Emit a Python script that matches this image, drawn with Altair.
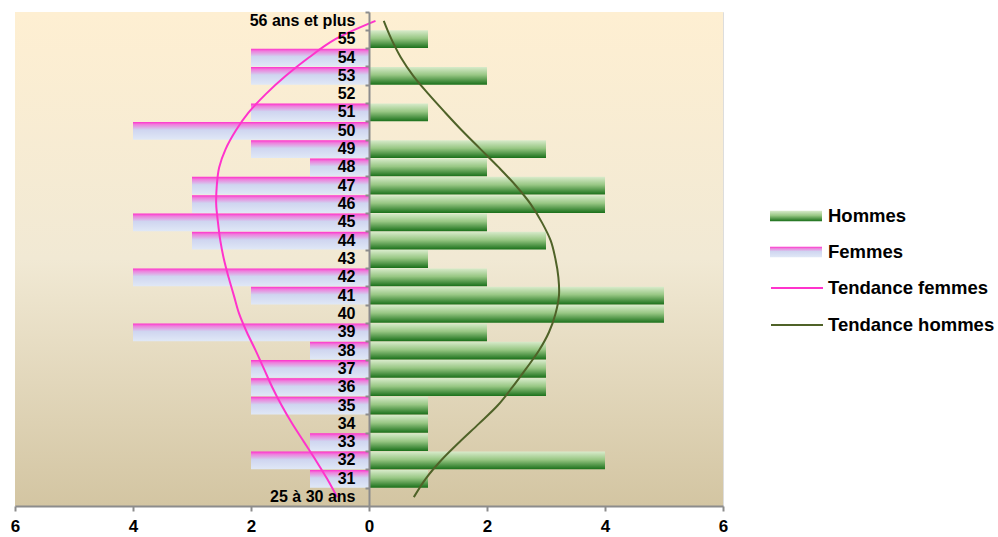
import altair as alt
import pandas as pd

categories = ["25 à 30 ans"] + [str(a) for a in range(31, 56)] + ["56 ans et plus"]
hommes = [0, 1, 4, 1, 1, 1, 3, 3, 3, 2, 5, 5, 2, 1, 3, 2, 4, 4, 2, 3, 0, 1, 0, 2, 0, 1, 0]
femmes = [0, 1, 2, 1, 0, 2, 2, 2, 1, 4, 0, 2, 4, 0, 3, 4, 3, 3, 1, 2, 4, 2, 0, 2, 2, 0, 0]
tendance_hommes = [0.76, 0.96, 1.22, 1.53, 1.86, 2.18, 2.43, 2.66, 2.88, 3.05, 3.16, 3.22, 3.21,
                   3.16, 3.08, 2.93, 2.74, 2.49, 2.20, 1.89, 1.58, 1.29, 1.01, 0.75, 0.54, 0.38, 0.25]
tendance_femmes = [-0.54, -0.71, -0.90, -1.10, -1.30, -1.48, -1.64, -1.78, -1.92, -2.07, -2.20,
                   -2.29, -2.38, -2.46, -2.52, -2.56, -2.59, -2.58, -2.54, -2.43, -2.26, -2.04,
                   -1.75, -1.41, -1.02, -0.57, 0.11]
x_ticks = [-6, -4, -2, 0, 2, 4, 6]

W, H = 708, 494
FONT = "Liberation Sans"
order_top_down = categories[::-1]

bars_h = pd.DataFrame({"cat": categories, "value": hommes, "series": "Hommes"})
bars_f = pd.DataFrame({"cat": categories, "value": [-v for v in femmes], "series": "Femmes"})
bars_h = bars_h[bars_h.value != 0]
bars_f = bars_f[bars_f.value != 0]
trend = pd.concat([
    pd.DataFrame({"cat": categories, "idx": range(len(categories)), "trend": tendance_femmes,
                  "series": "Tendance femmes"}),
    pd.DataFrame({"cat": categories, "idx": range(len(categories)), "trend": tendance_hommes,
                  "series": "Tendance hommes"}),
])

x_axis = alt.Axis(values=x_ticks, labelExpr="abs(datum.value)", title=None, grid=False,
                  domainColor="#8c8c8c", domainWidth=2, tickColor="#8c8c8c", tickWidth=2,
                  tickSize=5, labelFont=FONT, labelFontSize=17, labelFontWeight="bold",
                  labelColor="black", labelPadding=7, labelFlush=False, zindex=2)
x_scale = alt.Scale(domain=[-6, 6], nice=False, zero=False)
y_scale = alt.Scale(paddingInner=0.03, paddingOuter=0)

axis_labels = alt.Axis(title=None, orient="left", offset=-W / 2, domain=False, ticks=False,
                       labelPadding=14, labelFont=FONT, labelFontSize=16, labelFontWeight="bold",
                       labelColor="black", labelOverlap=False, grid=False, zindex=2)
axis_ticks = alt.Axis(title=None, orient="left", offset=-W / 2, labels=False, domain=True,
                      domainColor="#8c8c8c", domainWidth=2, ticks=True, tickColor="#8c8c8c",
                      tickSize=4, tickWidth=2, bandPosition=0, grid=False, zindex=2)

bg_grad = alt.LinearGradient(gradient="linear", x1=0, x2=0, y1=0, y2=1, stops=[
    alt.GradientStop(color="#feefd2", offset=0),
    alt.GradientStop(color="#f1e9d4", offset=0.5),
    alt.GradientStop(color="#d3c5a2", offset=1)])
g_h = alt.LinearGradient(gradient="linear", x1=0, x2=0, y1=0, y2=1, stops=[
    alt.GradientStop(color="#d8ebcb", offset=0),
    alt.GradientStop(color="#98c784", offset=0.45),
    alt.GradientStop(color="#1a701a", offset=1)])
g_f = alt.LinearGradient(gradient="linear", x1=0, x2=0, y1=0, y2=1, stops=[
    alt.GradientStop(color="#ff2fcc", offset=0),
    alt.GradientStop(color="#ee80dc", offset=0.15),
    alt.GradientStop(color="#cfd5f0", offset=0.45),
    alt.GradientStop(color="#e0e8f6", offset=1)])

bg = alt.Chart(pd.DataFrame({"a": [0]})).mark_rect(fill=bg_grad).encode(
    x=alt.value(0), x2=alt.value(W), y=alt.value(0), y2=alt.value(H))

sym_h = ("{gradient:'linear',x1:0,y1:0,x2:0,y2:1,stops:[{offset:0,color:'#d8ebcb'},"
         "{offset:0.5,color:'#98c784'},{offset:1,color:'#1a701a'}]}")
sym_f = ("{gradient:'linear',x1:0,y1:0,x2:0,y2:1,stops:[{offset:0,color:'#ff2fcc'},"
         "{offset:0.3,color:'#ee80dc'},{offset:0.65,color:'#cfd5f0'},{offset:1,color:'#e0e8f6'}]}")

LEG_FS = 18.5
leg_common = dict(title=None, orient="none", symbolType="M-1,-0.2H1V0.2H-1Z", symbolSize=2704,
                  symbolStrokeWidth=0, clipHeight=16, symbolOpacity=1, labelFont=FONT,
                  labelFontSize=LEG_FS, labelFontWeight="bold", labelColor="black",
                  labelOffset=6, padding=0, labelLimit=300)

fem = alt.Chart(bars_f).mark_bar(fill=g_f, strokeWidth=0).encode(
    x=alt.X("value:Q", scale=x_scale, axis=x_axis),
    y=alt.Y("cat:N", sort=order_top_down, scale=y_scale, axis=axis_labels),
    strokeDash=alt.StrokeDash("series:N", scale=alt.Scale(domain=["Femmes"], range=[[1, 0]]),
                              legend=alt.Legend(legendX=755, legendY=232,
                                                symbolFillColor=alt.ExprRef(expr=sym_f),
                                                **leg_common)))
hom = alt.Chart(bars_h).mark_bar(fill=g_h, strokeWidth=0).encode(
    x=alt.X("value:Q", scale=x_scale, axis=x_axis),
    y=alt.Y("cat:N", sort=order_top_down, scale=y_scale, axis=None),
    stroke=alt.Stroke("series:N", scale=alt.Scale(domain=["Hommes"], range=["#1a701a"]),
                      legend=alt.Legend(legendX=755, legendY=196,
                                        symbolFillColor=alt.ExprRef(expr=sym_h),
                                        **leg_common)))

lines = alt.Chart(trend).mark_line(interpolate="catmull-rom", strokeWidth=2).encode(
    x=alt.X("trend:Q", scale=x_scale, axis=x_axis),
    y=alt.Y("cat:N", sort=order_top_down, scale=y_scale, axis=axis_ticks),
    color=alt.Color("series:N",
                    scale=alt.Scale(domain=["Tendance femmes", "Tendance hommes"],
                                    range=["#ff33cc", "#4f6228"]),
                    legend=alt.Legend(title=None, orient="none", legendX=755, legendY=268,
                                      symbolType="M-1,0H1", symbolSize=2704, symbolStrokeWidth=2,
                                      clipHeight=16, rowPadding=18, labelFont=FONT,
                                      labelFontSize=LEG_FS, labelFontWeight="bold", labelColor="black",
                                      labelOffset=4, padding=0, labelLimit=300)),
    order="idx:Q")

chart = alt.layer(bg, fem, hom, lines).resolve_axis(y="independent").properties(
    width=W, height=H,
    autosize=alt.AutoSizeParams(type="none"),
    padding={"left": 15, "top": 12, "right": 275, "bottom": 31},
).configure_view(stroke=None).configure(background="white")

chart.save("out.html", embed_options={"renderer": "svg", "actions": False})
